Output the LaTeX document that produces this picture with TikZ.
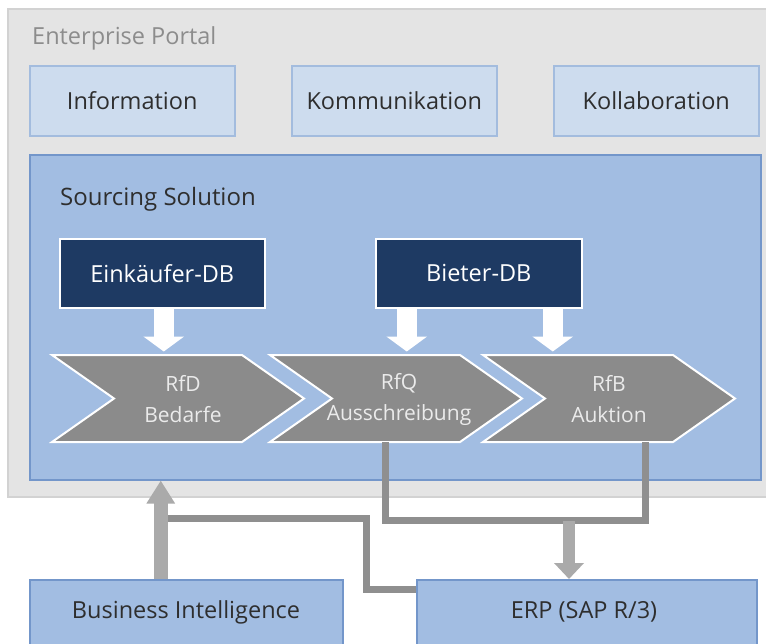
\documentclass[tikz,border=0pt]{standalone}
\usepackage{fontspec}
\setmainfont{Open Sans}
\usetikzlibrary{arrows.meta,calc}
\definecolor{portalfill}{HTML}{E4E4E4}
\definecolor{portaldraw}{HTML}{D2D2D2}
\definecolor{topfill}{HTML}{CDDCEE}
\definecolor{topdraw}{HTML}{A3BCDE}
\definecolor{blfill}{HTML}{A2BDE2}
\definecolor{bldraw}{HTML}{7396CA}
\definecolor{navy}{HTML}{1E3A63}
\definecolor{chevgray}{HTML}{8B8B8B}
\definecolor{linegray}{HTML}{8F8F8F}
\definecolor{arrgray}{HTML}{AAAAAA}
\definecolor{txtdark}{HTML}{2E2E2E}
\definecolor{txtgray}{HTML}{8C8C8C}
\newcommand\mychevron[1]{%
  \draw[chevstyle] (#1,355) -- ++(190,0) -- ++(62,43.5) -- ++(-62,43.5) -- ++(-190,0) -- ++(62,-43.5) -- cycle;}
\tikzset{
  topbox/.style={draw=topdraw, fill=topfill, line width=1.5pt, anchor=north west, minimum width=205pt, minimum height=70pt, inner sep=0pt, text=txtdark, font=\fontsize{23.5}{28}\selectfont},
  bluebox/.style={draw=bldraw, fill=blfill, line width=1.5pt, anchor=north west, inner sep=0pt},
  dbbox/.style={draw=white, fill=navy, line width=1.5pt, anchor=north west, minimum height=69pt, inner sep=0pt, text=white, font=\fontsize{23.5}{28}\selectfont},
  chevstyle/.style={draw=white, fill=chevgray, line width=2pt, line join=miter},
  chevtext/.style={align=center, text=white!92!black, font=\fontsize{21}{31}\selectfont, inner sep=0pt},
  darkline/.style={draw=linegray, line width=7pt, line join=miter},
  whitearrow/.style={draw=white, line width=20pt, -{Triangle[width=40pt,length=15pt]}},
  grayarrowA/.style={draw=arrgray, line width=14pt, -{Triangle[width=27pt,length=23pt]}},
  grayarrowB/.style={draw=arrgray, line width=12pt, -{Triangle[width=29pt,length=16pt]}},
  lbl/.style={inner sep=0pt, font=\fontsize{23.5}{28}\selectfont}
}
\begin{document}
\begin{tikzpicture}[x=1pt,y=-1pt]
\clip (0,0) rectangle (766,643);
\fill[white] (0,0) rectangle (766,643);
% portal
\draw[fill=portalfill, draw=portaldraw, line width=1.5pt] (8,9) rectangle (780,497);
\node[lbl, anchor=base west, text=txtgray] (ep) at (32,44) {Enterprise Portal};
\node[topbox] (info) at (29,65) {Information};
\node[topbox] (komm) at (291,65) {Kommunikation};
\node[topbox] (koll) at (553,65) {Kollaboration};
% sourcing
\node[bluebox, minimum width=731pt, minimum height=325pt] (src) at (29,154) {};
\node[lbl, anchor=base west, text=txtdark, font=\fontsize{24}{28}\selectfont] (srct) at (60,205) {Sourcing Solution};
\node[dbbox, minimum width=205pt] (ek) at (59,238) {Einkäufer-DB};
\node[dbbox, minimum width=206pt] (bd) at (375,238) {Bieter-DB};
% chevrons
\mychevron{52}
\mychevron{270}
\mychevron{483}
\node[chevtext] (rfd) at (183,399) {RfD\\Bedarfe};
\node[chevtext] (rfq) at (399,399) {RfQ\\Ausschreibung};
\node[chevtext] (rfb) at (609,399) {RfB\\Auktion};
\coordinate (c2b) at (385,442);
\coordinate (c3b) at (645,442);
% white arrows
\draw[whitearrow] ([xshift=1.5pt]ek.south) -- ++(0,43);
\draw[whitearrow] ([xshift=-72pt]bd.south) -- ++(0,43);
\draw[whitearrow] ([xshift=74pt]bd.south) -- ++(0,43);
% bottom boxes
\node[bluebox, minimum width=313pt, minimum height=80pt, text=txtdark] (bi) at (29,579) {};
\node[lbl, text=txtdark] (bit) at (186,612) {Business Intelligence};
\node[bluebox, minimum width=340pt, minimum height=80pt, text=txtdark] (erp) at (416,579) {};
\node[lbl, text=txtdark] (erpt) at (584,612) {ERP (SAP R/3)};
% connectors
\draw[darkline] (c2b) -- ++(0,78) -| (c3b);
\coordinate (mid) at (569,521);
\draw[grayarrowB] (mid) -- (mid |- erp.north);
\coordinate (bij) at (160,518);
\draw[darkline] (bij) -- (366,518) |- ([yshift=30.5pt]erp.west);
\draw[grayarrowA] ([xshift=-25.5pt]bi.north) -- ([xshift=-25.5pt]bi.north |- src.south);
\end{tikzpicture}
\end{document}
